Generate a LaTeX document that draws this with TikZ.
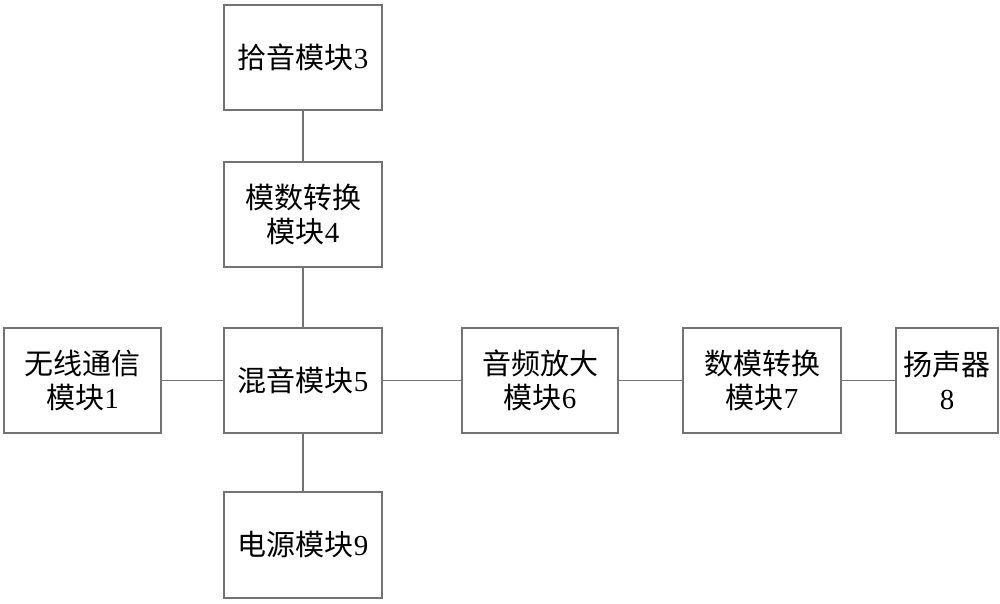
\documentclass[tikz,border=0pt]{standalone}
\usepackage{fontspec}
\setmainfont{Liberation Serif}
\newfontfamily\cjk{Noto Sans CJK SC}
\begin{document}
\begin{tikzpicture}[x=1pt,y=-1pt,
  blk/.style={draw=black!55,line width=1.3pt,rectangle,inner sep=0pt,align=center,
    font=\fontsize{29}{34}\selectfont},
  conn/.style={draw=black!55,line width=1.2pt}]
\useasboundingbox (0,0) rectangle (1000,604);
\node[blk,minimum width=158pt,minimum height=105pt] (b3) at (303,57.5) {{\cjk 拾音模块}3};
\node[blk,minimum width=158pt,minimum height=105pt] (b4) at (303,214.5) {{\cjk 模数转换}\\{\cjk 模块}4};
\node[blk,minimum width=158pt,minimum height=105pt] (b5) at (303,380.5) {{\cjk 混音模块}5};
\node[blk,minimum width=158pt,minimum height=106pt] (b9) at (303,545) {{\cjk 电源模块}9};
\node[blk,minimum width=157pt,minimum height=105pt] (b1) at (82.5,380.5) {{\cjk 无线通信}\\{\cjk 模块}1};
\node[blk,minimum width=156pt,minimum height=105pt] (b6) at (540,380.5) {{\cjk 音频放大}\\{\cjk 模块}6};
\node[blk,minimum width=158pt,minimum height=105pt] (b7) at (762,380.5) {{\cjk 数模转换}\\{\cjk 模块}7};
\node[blk,minimum width=102pt,minimum height=105pt] (b8) at (947,380.5) {{\cjk 扬声器}\\8};
\draw[conn] (b3) -- (b4);
\draw[conn] (b4) -- (b5);
\draw[conn] (b5) -- (b9);
\draw[conn] (b1) -- (b5);
\draw[conn] (b5) -- (b6);
\draw[conn] (b6) -- (b7);
\draw[conn] (b7) -- (b8);
\end{tikzpicture}
\end{document}
